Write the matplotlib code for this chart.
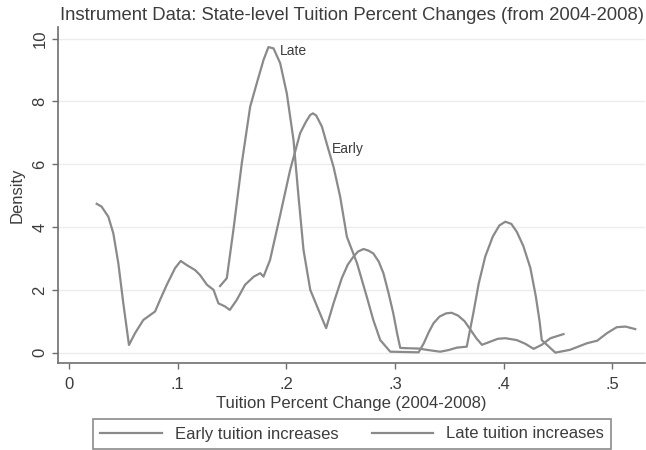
import matplotlib
matplotlib.use('Agg')
import matplotlib.pyplot as plt

plt.rcParams['font.family'] = ['Liberation Sans', 'DejaVu Sans']

# kernel density of tuition changes, early vs late increases
early_x = [0.0255, 0.030, 0.0362, 0.0408, 0.0454, 0.050, 0.0552, 0.0608, 0.0684, 0.0792,
           0.0838, 0.090, 0.0976, 0.1028, 0.1083, 0.116, 0.1206, 0.127, 0.133, 0.1375,
           0.1436, 0.148, 0.1544, 0.162, 0.170, 0.176, 0.179, 0.185, 0.194, 0.2035,
           0.2127, 0.218, 0.222, 0.2245, 0.2275, 0.2327, 0.2388, 0.2434, 0.2495, 0.2557,
           0.265, 0.274, 0.280, 0.2864, 0.2956, 0.3217, 0.3265, 0.331, 0.3355, 0.341,
           0.347, 0.352, 0.358, 0.364, 0.369, 0.375, 0.380, 0.3877, 0.3945, 0.4015,
           0.412, 0.420, 0.4275, 0.435, 0.443, 0.455]
early_y = [4.74, 4.65, 4.33, 3.80, 2.85, 1.57, 0.245, 0.62, 1.04, 1.31,
           1.68, 2.16, 2.69, 2.92, 2.79, 2.63, 2.47, 2.16, 2.00, 1.57,
           1.47, 1.36, 1.68, 2.16, 2.42, 2.53, 2.42, 2.95, 4.33, 5.82,
           6.99, 7.35, 7.57, 7.62, 7.55, 7.20, 6.46, 5.92, 4.97, 3.69,
           2.85, 1.78, 1.04, 0.40, 0.03, 0.01, 0.30, 0.65, 0.94, 1.15,
           1.25, 1.27, 1.18, 1.00, 0.75, 0.45, 0.25, 0.35, 0.44, 0.46,
           0.40, 0.28, 0.12, 0.25, 0.46, 0.59]

late_x = [0.139, 0.1452, 0.1513, 0.159, 0.1667, 0.1728, 0.179, 0.1835, 0.1882, 0.1943,
          0.2004, 0.2066, 0.2112, 0.2158, 0.222, 0.2296, 0.2366, 0.2434, 0.251, 0.2565,
          0.2618, 0.266, 0.271, 0.2755, 0.280, 0.285, 0.2893, 0.294, 0.2984, 0.302,
          0.3048, 0.312, 0.3217, 0.331, 0.3416, 0.349, 0.357, 0.366, 0.372, 0.377,
          0.383, 0.390, 0.396, 0.4015, 0.407, 0.412, 0.418, 0.4245, 0.4295, 0.433,
          0.435, 0.4475, 0.461, 0.4767, 0.486, 0.495, 0.504, 0.512, 0.521]
late_y = [2.12, 2.37, 3.91, 6.03, 7.83, 8.58, 9.32, 9.73, 9.69, 9.22,
          8.26, 6.77, 4.97, 3.27, 2.00, 1.36, 0.78, 1.57, 2.37, 2.80,
          3.06, 3.22, 3.30, 3.25, 3.16, 2.90, 2.53, 1.90, 1.25, 0.60,
          0.15, 0.14, 0.13, 0.08, 0.03, 0.08, 0.16, 0.19, 1.25, 2.20,
          3.06, 3.70, 4.05, 4.17, 4.10, 3.85, 3.40, 2.70, 1.80, 1.00,
          0.40, 0.00, 0.09, 0.30, 0.38, 0.62, 0.81, 0.83, 0.75]

xticks = [0, 0.1, 0.2, 0.3, 0.4, 0.5]
xticklabels = ['0', '.1', '.2', '.3', '.4', '.5']
yticks = [0, 2, 4, 6, 8, 10]

line_col = '#8a8a8a'
axis_col = '#6e6e6e'
text_col = '#3c3c3c'

fig = plt.figure(figsize=(6.46, 4.5), dpi=100)
ax = fig.add_axes([58 / 646, 87 / 450, 587 / 646, 336 / 450])

ax.plot(early_x, early_y, color=line_col, lw=1.6, label='Early tuition increases', solid_joinstyle='round')
ax.plot(late_x, late_y, color=line_col, lw=1.6, label='Late tuition increases', solid_joinstyle='round')

ax.text(0.1943, 9.6, 'Late', fontsize=10, color=text_col, va='center')
ax.text(0.242, 6.5, 'Early', fontsize=10, color=text_col, va='center')

ax.set_xlim(-0.0101, 0.530)
ax.set_ylim(-0.33, 10.37)
ax.set_xticks(xticks)
ax.set_xticklabels(xticklabels)
ax.set_yticks(yticks)
ax.set_yticklabels([str(v) for v in yticks], rotation=90, va='center')
ax.yaxis.grid(True, color='#ececec', lw=1)
ax.set_axisbelow(True)

for side in ['top', 'right']:
    ax.spines[side].set_visible(False)
for side in ['left', 'bottom']:
    ax.spines[side].set_color(axis_col)
    ax.spines[side].set_linewidth(1.2)
ax.tick_params(colors=axis_col, labelcolor=text_col, labelsize=12, length=4, width=1)
ax.tick_params(axis='x', pad=6)

ax.set_xlabel('Tuition Percent Change (2004-2008)', fontsize=12, color=text_col, labelpad=3)
ax.set_ylabel('Density', fontsize=12, color=text_col, labelpad=6)
fig.text(352 / 646, 1 - 15 / 450, 'Instrument Data: State-level Tuition Percent Changes (from 2004-2008)',
         fontsize=13.3, color=text_col, ha='center', va='center')

leg = fig.legend(loc='center', bbox_to_anchor=(352 / 646, 1 - 434 / 450), ncol=2, fontsize=12,
                 frameon=True, fancybox=False, handlelength=3.7, handletextpad=0.75,
                 columnspacing=2.0, borderpad=0.45, labelcolor=text_col)
leg.get_frame().set_edgecolor(axis_col)
leg.get_frame().set_linewidth(1.2)

plt.savefig('out.png', dpi=100)
